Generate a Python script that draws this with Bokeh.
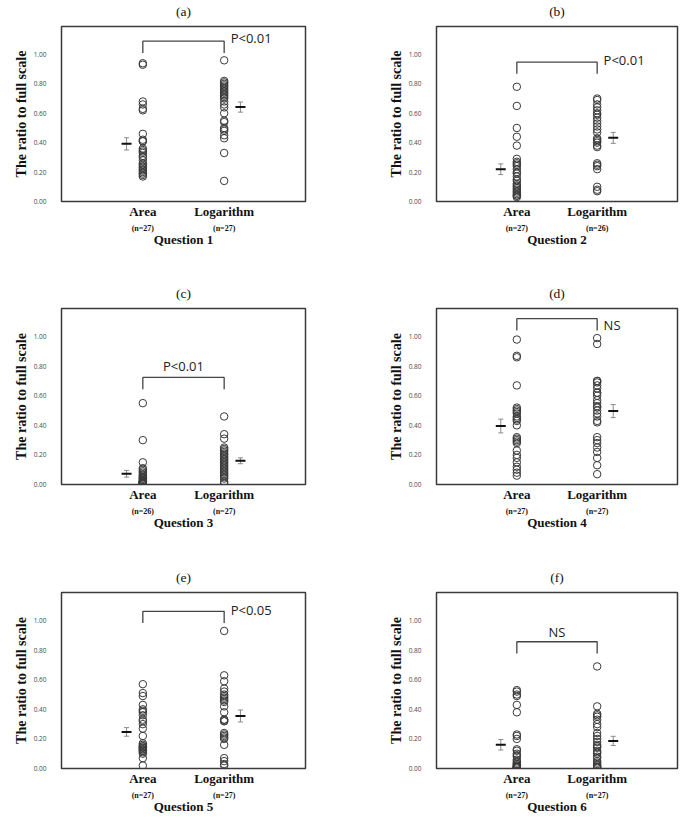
import numpy as np
from bokeh.plotting import figure
from bokeh.layouts import gridplot
from bokeh.models import (Range1d, FixedTicker, LinearAxis, Label, Whisker,
                          ColumnDataSource, TeeHead, NumeralTickFormatter)
from bokeh.embed import file_html
from bokeh.resources import INLINE

# ---- data: ratio to full scale, per question and display type ----
groups = ["Area", "Logarithm"]
panel_tags = ["(a)", "(b)", "(c)", "(d)", "(e)", "(f)"]
questions = ["Question 1", "Question 2", "Question 3",
             "Question 4", "Question 5", "Question 6"]
y_ticks = [0.0, 0.2, 0.4, 0.6, 0.8, 1.0]

q1_area = [0.94, 0.93, 0.68, 0.66, 0.63, 0.62, 0.46, 0.42, 0.41, 0.41, 0.36, 0.35, 0.34, 0.33,
           0.31, 0.30, 0.28, 0.26, 0.25, 0.24, 0.23, 0.22, 0.21, 0.20, 0.19, 0.18, 0.17]
q1_log = [0.96, 0.82, 0.81, 0.80, 0.79, 0.78, 0.77, 0.76, 0.75, 0.74, 0.73, 0.72, 0.71, 0.70,
          0.68, 0.66, 0.64, 0.60, 0.55, 0.54, 0.50, 0.49, 0.48, 0.45, 0.43, 0.33, 0.14]
q2_area = [0.78, 0.65, 0.50, 0.44, 0.38, 0.29, 0.27, 0.26, 0.25, 0.24, 0.22, 0.20, 0.19, 0.17,
           0.15, 0.14, 0.12, 0.11, 0.10, 0.09, 0.08, 0.07, 0.06, 0.05, 0.04, 0.04, 0.03]
q2_log = [0.70, 0.69, 0.66, 0.64, 0.62, 0.60, 0.59, 0.57, 0.55, 0.53, 0.51, 0.49, 0.47, 0.43,
          0.42, 0.41, 0.40, 0.38, 0.37, 0.26, 0.25, 0.24, 0.22, 0.10, 0.08, 0.07]
q3_area = [0.55, 0.30, 0.15, 0.11, 0.10, 0.09, 0.08, 0.07, 0.06, 0.05, 0.05, 0.04, 0.04, 0.03,
           0.03, 0.02, 0.02, 0.02, 0.01, 0.01, 0.01, 0.01, 0.01, 0.01, 0.01, 0.01]
q3_log = [0.46, 0.34, 0.31, 0.25, 0.24, 0.23, 0.22, 0.21, 0.20, 0.19, 0.18, 0.17, 0.16, 0.15,
          0.14, 0.13, 0.12, 0.11, 0.10, 0.09, 0.08, 0.07, 0.06, 0.05, 0.04, 0.02, 0.01]
q4_area = [0.98, 0.87, 0.86, 0.67, 0.52, 0.51, 0.50, 0.49, 0.48, 0.46, 0.45, 0.44, 0.43, 0.40,
           0.32, 0.31, 0.30, 0.29, 0.28, 0.23, 0.20, 0.18, 0.15, 0.12, 0.10, 0.08, 0.06]
q4_log = [0.99, 0.95, 0.70, 0.70, 0.69, 0.67, 0.65, 0.62, 0.62, 0.60, 0.57, 0.55, 0.53, 0.52,
          0.50, 0.48, 0.46, 0.43, 0.42, 0.32, 0.30, 0.28, 0.25, 0.22, 0.18, 0.13, 0.07]
q5_area = [0.57, 0.51, 0.49, 0.43, 0.40, 0.39, 0.38, 0.36, 0.33, 0.32, 0.30, 0.27, 0.22, 0.17,
           0.16, 0.15, 0.15, 0.14, 0.14, 0.13, 0.13, 0.12, 0.12, 0.11, 0.10, 0.07, 0.02]
q5_log = [0.93, 0.63, 0.59, 0.54, 0.52, 0.50, 0.49, 0.48, 0.47, 0.46, 0.45, 0.42, 0.38, 0.33,
          0.33, 0.32, 0.32, 0.24, 0.23, 0.22, 0.21, 0.20, 0.16, 0.07, 0.05, 0.03, 0.02]
q6_area = [0.53, 0.52, 0.50, 0.49, 0.43, 0.38, 0.23, 0.22, 0.20, 0.13, 0.12, 0.10, 0.09, 0.08,
           0.06, 0.05, 0.04, 0.03, 0.03, 0.02, 0.02, 0.01, 0.01, 0.01, 0.01, 0.01, 0.01]
q6_log = [0.69, 0.42, 0.37, 0.36, 0.35, 0.33, 0.30, 0.28, 0.24, 0.22, 0.20, 0.18, 0.16, 0.15,
          0.14, 0.12, 0.11, 0.10, 0.08, 0.07, 0.05, 0.04, 0.03, 0.02, 0.01, 0.01, 0.01]

area_sets = [q1_area, q2_area, q3_area, q4_area, q5_area, q6_area]
log_sets = [q1_log, q2_log, q3_log, q4_log, q5_log, q6_log]

# significance brackets
sig_text = ["P<0.01", "P<0.01", "P<0.01", "NS", "P<0.05", "NS"]
bracket_top = [1.09, 0.948, 0.724, 1.121, 1.063, 0.857]
sig_place = ["side", "side", "above", "side", "side", "above"]
sig_dy = [0.02, 0.012, 0.075, -0.04, 0.008, 0.067]

# ---- styling / layout ----
SERIF = "Liberation Serif"
SANS = "Open Sans"
GROUP_X = [1, 2]
TAG_X = 1.5
MEAN_OFFSET = 0.2
LEG = 0.08
Y_MAX = 1.19

ROW_H = [280, 280, 260]
BORDER_TOP = [24, 28, 32]
FRAME_H = [177, 176, 176]
BORDER_LR = [(61, 39), (92, 11)]


def sem(v):
    a = np.asarray(v, dtype=float)
    return a.std(ddof=1) / np.sqrt(len(a))


def bare_axis(ax):
    ax.axis_line_color = None
    ax.major_tick_line_color = None
    ax.minor_tick_line_color = None
    ax.major_tick_out = 0
    ax.major_tick_in = 0
    ax.minor_tick_out = 0
    ax.minor_tick_in = 0


def make_panel(i):
    r, c = divmod(i, 2)
    bl, br = BORDER_LR[c]
    p = figure(width=344, height=ROW_H[r],
               x_range=Range1d(0, 3), y_range=Range1d(0, Y_MAX),
               output_backend="svg", toolbar_location=None,
               min_border_left=bl, min_border_right=br,
               min_border_top=BORDER_TOP[r],
               min_border_bottom=ROW_H[r] - BORDER_TOP[r] - FRAME_H[r])

    p.grid.visible = False
    p.outline_line_color = "#3a3a3a"
    p.outline_line_width = 1.5
    p.background_fill_color = "white"
    p.border_fill_color = "white"

    # y axis
    ya = p.yaxis[0]
    ya.ticker = FixedTicker(ticks=y_ticks)
    ya.formatter = NumeralTickFormatter(format="0.00")
    bare_axis(ya)
    ya.major_label_standoff = 15
    ya.major_label_text_font = SANS
    ya.major_label_text_font_size = "6.5px"
    ya.major_label_text_color = "#4a4a4a"
    ya.axis_label = "The ratio to full scale"
    ya.axis_label_text_font = SERIF
    ya.axis_label_text_font_style = "bold"
    ya.axis_label_text_font_size = "14px"
    ya.axis_label_text_color = "#111111"
    ya.axis_label_standoff = 2

    # x axis: group names
    xa = p.xaxis[0]
    xa.ticker = FixedTicker(ticks=GROUP_X)
    xa.major_label_overrides = {GROUP_X[0]: groups[0], GROUP_X[1]: groups[1]}
    bare_axis(xa)
    xa.major_label_standoff = 2
    xa.major_label_text_font = SERIF
    xa.major_label_text_font_style = "bold"
    xa.major_label_text_font_size = "13px"
    xa.major_label_text_color = "#111111"

    # second x axis: group sizes and question label
    na = LinearAxis(ticker=FixedTicker(ticks=GROUP_X))
    na.major_label_overrides = {GROUP_X[0]: f"(n={len(area_sets[i])})",
                                GROUP_X[1]: f"(n={len(log_sets[i])})"}
    bare_axis(na)
    na.major_label_standoff = 2
    na.major_label_text_font = SERIF
    na.major_label_text_font_style = "bold"
    na.major_label_text_font_size = "8px"
    na.major_label_text_color = "#111111"
    na.axis_label = questions[i]
    na.axis_label_standoff = -4
    na.axis_label_text_font = SERIF
    na.axis_label_text_font_style = "bold"
    na.axis_label_text_font_size = "13px"
    na.axis_label_text_color = "#111111"
    p.add_layout(na, "below")

    # panel tag, carried by a bare axis above the frame
    ta = LinearAxis(ticker=FixedTicker(ticks=[TAG_X]))
    ta.major_label_overrides = {TAG_X: panel_tags[i]}
    bare_axis(ta)
    ta.major_label_standoff = 8
    ta.major_label_text_font = SERIF
    ta.major_label_text_font_size = "13.5px"
    ta.major_label_text_color = "#111111"
    p.add_layout(ta, "above")

    # individual responses
    for gx, vals in zip(GROUP_X, (area_sets[i], log_sets[i])):
        p.scatter([gx] * len(vals), vals, marker="circle", size=7.5,
                  fill_color=None, line_color="#3a3a3a", line_width=1)

    # mean +/- standard error beside each group
    mx = [GROUP_X[0] - MEAN_OFFSET, GROUP_X[1] + MEAN_OFFSET]
    means = [float(np.mean(area_sets[i])), float(np.mean(log_sets[i]))]
    errs = [sem(area_sets[i]), sem(log_sets[i])]
    src = ColumnDataSource(dict(x=mx,
                                upper=[m + e for m, e in zip(means, errs)],
                                lower=[m - e for m, e in zip(means, errs)]))
    p.add_layout(Whisker(base="x", upper="upper", lower="lower", source=src,
                         dimension="height", line_color="#8a8a8a", line_width=1,
                         upper_head=TeeHead(size=5, line_color="#8a8a8a", line_width=1),
                         lower_head=TeeHead(size=5, line_color="#8a8a8a", line_width=1)))
    p.scatter(mx, means, marker="dash", size=10, line_width=2, line_color="#111111")

    # significance bracket
    top = bracket_top[i]
    p.line([GROUP_X[0], GROUP_X[0], GROUP_X[1], GROUP_X[1]],
           [top - LEG, top, top, top - LEG], line_color="#444444", line_width=1.3)
    if sig_place[i] == "side":
        lab = Label(x=GROUP_X[1] + 0.08, y=top + sig_dy[i], text=sig_text[i],
                    text_align="left", text_baseline="middle")
    else:
        lab = Label(x=(GROUP_X[0] + GROUP_X[1]) / 2, y=top + sig_dy[i], text=sig_text[i],
                    text_align="center", text_baseline="middle")
    lab.text_font = SANS
    lab.text_font_size = "13px"
    lab.text_color = "#222222"
    p.add_layout(lab)
    return p


panels = [make_panel(i) for i in range(6)]
grid = gridplot([[panels[0], panels[1]], [panels[2], panels[3]], [panels[4], panels[5]]],
                toolbar_location=None)

open("out.html", "w").write(file_html(grid, INLINE))
